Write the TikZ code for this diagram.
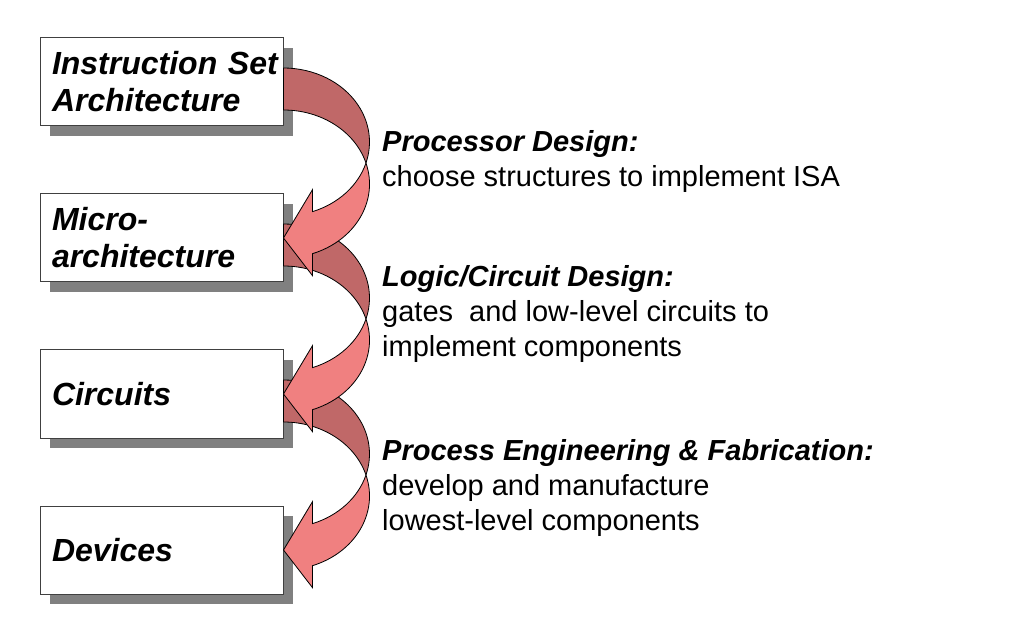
\documentclass[tikz,border=0pt]{standalone}
\usepackage{fontspec}
\setmainfont{Liberation Sans}
\usetikzlibrary{positioning,calc,shadows}
\definecolor{bandback}{RGB}{192,104,104}
\definecolor{bandfront}{RGB}{240,128,128}

\begin{document}
\begin{tikzpicture}[
    x=1pt, y=1pt,
    node distance=67pt,
    level/.style={rectangle, draw=black!75, fill=white, line width=1pt, text width=219pt, inner xsep=12pt, minimum height=88pt, align=left, font=\fontsize{32}{37}\selectfont\bfseries\itshape, drop shadow={shadow xshift=10pt, shadow yshift=-10pt, fill=black!50, opacity=1}},
    note/.style={anchor=north west, inner sep=0pt, align=left, font=\fontsize{29}{35}\selectfont},
    back/.style={draw=black, line width=0.8pt, fill=bandback},
    front/.style={draw=black, line width=0.8pt, fill=bandfront}
]
    \useasboundingbox (0,0) rectangle (1018,-628);

    % Levels
    \node [level] at (161.5,-82) (isa) {Instruction~Set\\Architecture};
    \node [level, below=of isa] (uarch) {Micro-\\architecture};
    \node [level, below=of uarch] (circ) {Circuits};
    \node [level, below=of circ] (dev) {Devices};

    % Notes
    \node [note] at (382,-130) (procdesign) {\textbf{\textit{Processor Design:}}\\choose structures to implement ISA};
    \node [note] at (382,-265) (logicdesign) {\textbf{\textit{Logic/Circuit Design:}}\\gates\ \ and low-level circuits to\\implement components};
    \node [note] at (382,-439) (fabdesign) {\textbf{\textit{Process Engineering \& Fabrication:}}\\develop and manufacture\\lowest-level components};

    % Curved arrows
    \foreach \src/\dst in {circ/dev, uarch/circ, isa/uarch} {
        \draw [back] ($(\src.east)+(0,14)$) arc[start angle=90, end angle=-16.49, x radius=86pt, y radius=74pt]
            arc[start angle=16.49, end angle=90, x radius=86pt, y radius=74pt] -- cycle;
        \draw [front] ($(\src.east)+(82.47,-81)$) arc[start angle=16.49, end angle=-70.3, x radius=86pt, y radius=74pt]
            -- ++(0,-22) -- (\dst.east) -- ($(\src.east)+(29,-107.65)$) -- ($(\src.east)+(29,-129.65)$)
            arc[start angle=-70.3, end angle=-16.49, x radius=86pt, y radius=74pt] -- cycle;
    }
\end{tikzpicture}
\end{document}
